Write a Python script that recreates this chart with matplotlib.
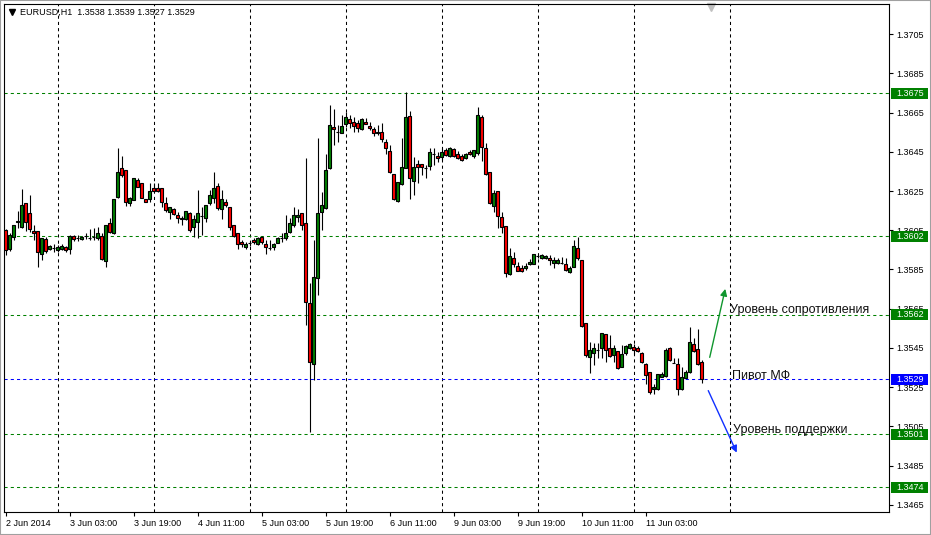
import numpy as np
import matplotlib.pyplot as plt
import matplotlib.transforms as mtransforms
from matplotlib.patches import Rectangle

plt.rcParams['font.family'] = ['Liberation Sans', 'DejaVu Sans']

# EURUSD H1 candles, 2-11 Jun 2014
opens = [
    1.36051, 1.35954, 1.36015, 1.36092, 1.36066, 1.36189, 1.36138, 1.36046, 1.36046, 1.35929,
    1.36005, 1.35954, 1.35959, 1.35949, 1.35954, 1.35964, 1.35954, 1.36020, 1.36010, 1.36005,
    1.36020, 1.36010, 1.36015, 1.36010, 1.36020, 1.35893, 1.36087, 1.36036, 1.36219, 1.36367,
    1.36357, 1.36189, 1.36204, 1.36306, 1.36291, 1.36209, 1.36209, 1.36265, 1.36265, 1.36265,
    1.36189, 1.36143, 1.36158, 1.36128, 1.36107, 1.36107, 1.36138, 1.36066, 1.36092, 1.36122,
    1.36112, 1.36189, 1.36214, 1.36275, 1.36158, 1.36194, 1.36168, 1.36077, 1.36036, 1.35990,
    1.35964, 1.35985, 1.36000, 1.35980, 1.36015, 1.35980, 1.35959, 1.35964, 1.35985, 1.36010,
    1.36010, 1.36041, 1.36077, 1.36117, 1.36138, 1.36087, 1.35679, 1.35368, 1.35806, 1.36143,
    1.36163, 1.36367, 1.36576, 1.36551, 1.36546, 1.36592, 1.36617, 1.36602, 1.36597, 1.36566,
    1.36602, 1.36581, 1.36566, 1.36551, 1.36551, 1.36500, 1.36454, 1.36337, 1.36199, 1.36286,
    1.36367, 1.36632, 1.36301, 1.36388, 1.36388, 1.36367, 1.36377, 1.36439, 1.36428, 1.36423,
    1.36459, 1.36428, 1.36464, 1.36439, 1.36428, 1.36418, 1.36449, 1.36428, 1.36444, 1.36627,
    1.36469, 1.36347, 1.36173, 1.36250, 1.36117, 1.36071, 1.35827, 1.35908, 1.35867, 1.35857,
    1.35857, 1.35878, 1.35878, 1.35918, 1.35908, 1.35908, 1.35908, 1.35883, 1.35883, 1.35883,
    1.35878, 1.35837, 1.35862, 1.35959, 1.35898, 1.35577, 1.35403, 1.35424, 1.35439, 1.35449,
    1.35521, 1.35449, 1.35414, 1.35434, 1.35352, 1.35424, 1.35449, 1.35454, 1.35449, 1.35424,
    1.35368, 1.35327, 1.35240, 1.35240, 1.35301, 1.35306, 1.35449, 1.35373, 1.35368, 1.35240,
    1.35296, 1.35327, 1.35470, 1.35444, 1.35380,
]
highs = [
    1.36056, 1.36036, 1.36077, 1.36148, 1.36260, 1.36189, 1.36230, 1.36077, 1.36046, 1.36010,
    1.36015, 1.35975, 1.35980, 1.35975, 1.35980, 1.35969, 1.36026, 1.36026, 1.36026, 1.36020,
    1.36036, 1.36056, 1.36061, 1.36066, 1.36036, 1.36077, 1.36112, 1.36209, 1.36469, 1.36428,
    1.36357, 1.36219, 1.36316, 1.36316, 1.36291, 1.36209, 1.36291, 1.36291, 1.36291, 1.36265,
    1.36219, 1.36168, 1.36163, 1.36143, 1.36122, 1.36148, 1.36143, 1.36128, 1.36255, 1.36168,
    1.36179, 1.36255, 1.36347, 1.36291, 1.36255, 1.36209, 1.36168, 1.36077, 1.36036, 1.36000,
    1.35990, 1.35995, 1.36010, 1.36015, 1.36020, 1.36000, 1.36000, 1.35985, 1.36015, 1.36036,
    1.36128, 1.36112, 1.36168, 1.36158, 1.36138, 1.36418, 1.35781, 1.36000, 1.36520, 1.36245,
    1.36439, 1.36689, 1.36668, 1.36587, 1.36638, 1.36653, 1.36638, 1.36627, 1.36612, 1.36622,
    1.36622, 1.36602, 1.36576, 1.36587, 1.36597, 1.36515, 1.36485, 1.36337, 1.36296, 1.36520,
    1.36755, 1.36658, 1.36423, 1.36408, 1.36388, 1.36383, 1.36469, 1.36469, 1.36449, 1.36469,
    1.36469, 1.36474, 1.36469, 1.36454, 1.36439, 1.36444, 1.36459, 1.36459, 1.36678, 1.36638,
    1.36495, 1.36347, 1.36255, 1.36250, 1.36143, 1.36071, 1.35959, 1.35939, 1.35888, 1.35873,
    1.35883, 1.35903, 1.35929, 1.35929, 1.35929, 1.35924, 1.35924, 1.35913, 1.35908, 1.35913,
    1.35908, 1.35867, 1.36000, 1.36015, 1.35898, 1.35577, 1.35480, 1.35475, 1.35475, 1.35526,
    1.35521, 1.35516, 1.35465, 1.35434, 1.35465, 1.35465, 1.35475, 1.35470, 1.35459, 1.35429,
    1.35373, 1.35327, 1.35266, 1.35317, 1.35327, 1.35449, 1.35454, 1.35398, 1.35398, 1.35352,
    1.35337, 1.35556, 1.35500, 1.35546, 1.35390,
]
lows = [
    1.35924, 1.35944, 1.36000, 1.36061, 1.36061, 1.36046, 1.36041, 1.36000, 1.35862, 1.35898,
    1.35934, 1.35949, 1.35939, 1.35939, 1.35949, 1.35939, 1.35929, 1.35995, 1.35995, 1.36000,
    1.36005, 1.36000, 1.36000, 1.36000, 1.35898, 1.35862, 1.36036, 1.36031, 1.36214, 1.36321,
    1.36173, 1.36173, 1.36204, 1.36270, 1.36214, 1.36194, 1.36194, 1.36245, 1.36245, 1.36168,
    1.36143, 1.36107, 1.36128, 1.36087, 1.36077, 1.36102, 1.36041, 1.36015, 1.36010, 1.36026,
    1.36092, 1.36179, 1.36189, 1.36153, 1.36107, 1.36168, 1.36051, 1.36015, 1.35954, 1.35964,
    1.35954, 1.35969, 1.35980, 1.35975, 1.35980, 1.35929, 1.35949, 1.35949, 1.35985, 1.35990,
    1.36000, 1.36036, 1.36066, 1.36092, 1.36051, 1.35567, 1.35021, 1.35286, 1.35720, 1.36051,
    1.36158, 1.36362, 1.36485, 1.36500, 1.36546, 1.36576, 1.36571, 1.36551, 1.36551, 1.36561,
    1.36592, 1.36561, 1.36530, 1.36536, 1.36500, 1.36439, 1.36342, 1.36204, 1.36194, 1.36281,
    1.36367, 1.36209, 1.36230, 1.36291, 1.36332, 1.36316, 1.36357, 1.36383, 1.36398, 1.36408,
    1.36428, 1.36423, 1.36423, 1.36413, 1.36403, 1.36413, 1.36434, 1.36418, 1.36434, 1.36403,
    1.36332, 1.36184, 1.36143, 1.36061, 1.36036, 1.35811, 1.35822, 1.35862, 1.35842, 1.35837,
    1.35847, 1.35873, 1.35878, 1.35908, 1.35903, 1.35903, 1.35873, 1.35857, 1.35878, 1.35878,
    1.35842, 1.35832, 1.35862, 1.35898, 1.35556, 1.35403, 1.35322, 1.35363, 1.35398, 1.35398,
    1.35378, 1.35403, 1.35378, 1.35342, 1.35352, 1.35414, 1.35444, 1.35419, 1.35429, 1.35373,
    1.35266, 1.35215, 1.35215, 1.35235, 1.35301, 1.35301, 1.35383, 1.35373, 1.35210, 1.35235,
    1.35296, 1.35322, 1.35429, 1.35363, 1.35270,
]
closes = [
    1.35949, 1.36026, 1.36077, 1.36097, 1.36179, 1.36092, 1.36056, 1.36036, 1.35939, 1.36010,
    1.35944, 1.35969, 1.35959, 1.35964, 1.35969, 1.35949, 1.36020, 1.36005, 1.36010, 1.36015,
    1.36020, 1.36010, 1.36015, 1.36036, 1.35903, 1.36077, 1.36041, 1.36209, 1.36347, 1.36332,
    1.36194, 1.36214, 1.36316, 1.36270, 1.36214, 1.36194, 1.36250, 1.36250, 1.36250, 1.36194,
    1.36153, 1.36168, 1.36133, 1.36112, 1.36112, 1.36148, 1.36051, 1.36107, 1.36138, 1.36122,
    1.36179, 1.36230, 1.36265, 1.36163, 1.36209, 1.36179, 1.36066, 1.36020, 1.35980, 1.35980,
    1.35980, 1.35985, 1.35990, 1.36010, 1.35990, 1.35964, 1.35959, 1.35980, 1.36010, 1.36010,
    1.36036, 1.36087, 1.36128, 1.36128, 1.36077, 1.35684, 1.35378, 1.35811, 1.36138, 1.36179,
    1.36357, 1.36587, 1.36566, 1.36551, 1.36581, 1.36627, 1.36597, 1.36581, 1.36571, 1.36617,
    1.36592, 1.36571, 1.36546, 1.36546, 1.36515, 1.36469, 1.36347, 1.36209, 1.36296, 1.36372,
    1.36627, 1.36316, 1.36372, 1.36372, 1.36372, 1.36367, 1.36449, 1.36439, 1.36418, 1.36449,
    1.36434, 1.36469, 1.36428, 1.36418, 1.36408, 1.36439, 1.36439, 1.36459, 1.36638, 1.36474,
    1.36337, 1.36189, 1.36240, 1.36122, 1.36066, 1.35832, 1.35918, 1.35878, 1.35842, 1.35842,
    1.35867, 1.35888, 1.35929, 1.35918, 1.35924, 1.35918, 1.35898, 1.35898, 1.35898, 1.35883,
    1.35847, 1.35857, 1.35969, 1.35908, 1.35561, 1.35414, 1.35439, 1.35449, 1.35439, 1.35526,
    1.35439, 1.35408, 1.35449, 1.35347, 1.35419, 1.35459, 1.35470, 1.35439, 1.35434, 1.35378,
    1.35312, 1.35225, 1.35250, 1.35317, 1.35317, 1.35439, 1.35388, 1.35373, 1.35240, 1.35301,
    1.35327, 1.35480, 1.35434, 1.35368, 1.35290,
]

time_labels = ["2 Jun 2014", "3 Jun 03:00", "3 Jun 19:00", "4 Jun 11:00", "5 Jun 03:00",
               "5 Jun 19:00", "6 Jun 11:00", "9 Jun 03:00", "9 Jun 19:00", "10 Jun 11:00",
               "11 Jun 03:00"]
support_levels = [1.3675, 1.3602, 1.3562, 1.3501, 1.3474]
pivot = 1.3529
price_ticks = [1.3465, 1.3485, 1.3505, 1.3525, 1.3545, 1.3565, 1.3585,
               1.3605, 1.3625, 1.3645, 1.3665, 1.3685, 1.3705]

W, H = 931, 535
fig = plt.figure(figsize=(W / 100, H / 100), dpi=100)
ax = fig.add_axes([4 / W, 23 / H, 885 / W, 508 / H])

o = np.array(opens)
h = np.array(highs)
l = np.array(lows)
c = np.array(closes)
idx = np.arange(len(o))
body_col = np.where(c >= o, '#008000', '#ff0000')

ax.vlines(idx, l, h, color='black', lw=0.8, zorder=3)
ax.bar(idx, np.abs(c - o), bottom=np.minimum(o, c), width=0.55, color=body_col,
       edgecolor='black', linewidth=0.8, zorder=4)

# vertical grid (every 24 bars, up to the chart shift)
for gx in range(13, 190, 24):
    ax.axvline(gx, color='black', lw=0.75, dashes=(3, 3), zorder=1)

# levels
for lv in support_levels:
    ax.axhline(lv, color='#008000', lw=0.75, dashes=(3, 3), zorder=2)
ax.axhline(pivot, color='#0000ff', lw=0.75, dashes=(3, 3), zorder=2)

trans = mtransforms.blended_transform_factory(ax.transAxes, ax.transData)
box_h = 11 / 19600
for lv, col in [(v, '#008000') for v in support_levels] + [(pivot, '#0000ff')]:
    ax.add_patch(Rectangle((1 + 2 / 885, lv - box_h / 2), 37 / 885, box_h, transform=trans,
                           facecolor=col, edgecolor='none', clip_on=False, zorder=10))
    ax.text(1 + 7 / 885, lv, f'{lv:.4f}', transform=trans, color='white', fontsize=6.5,
            va='center', ha='left', clip_on=False, zorder=11)

ax.set_xlim(-0.375, 220.875)
ax.set_ylim(1.34613, 1.37204)

ax.yaxis.tick_right()
ax.set_yticks(price_ticks)
ax.set_yticklabels([f'{t:.4f}' for t in price_ticks])
ax.tick_params(axis='y', length=3, width=0.8, pad=2, labelsize=6.5)
ax.set_xticks(np.arange(0, 161, 16))
ax.set_xticklabels(time_labels, ha='left')
ax.tick_params(axis='x', length=3, width=0.8, pad=2, labelsize=6.5)
for sp in ax.spines.values():
    sp.set_linewidth(0.8)

# arrows and notes
ax.annotate('', xy=(180.1, 1.35765), xytext=(175.9, 1.35388),
            arrowprops=dict(arrowstyle='-|>', color='#10962e', lw=1, mutation_scale=10))
ax.annotate('', xy=(183.1, 1.34903), xytext=(175.4, 1.35245),
            arrowprops=dict(arrowstyle='-|>', color='#1030ff', lw=1, mutation_scale=10))
ax.text(181.1, 1.35643, 'Уровень сопротивления', fontsize=9, va='center', ha='left', color='#101010')
ax.text(181.6, 1.35306, 'Пивот МФ', fontsize=9, va='center', ha='left', color='#101010')
ax.text(181.9, 1.35031, 'Уровень поддержки', fontsize=9, va='center', ha='left', color='#101010')

# header
fig.text(20 / W, 1 - 12 / H, 'EURUSD,H1  1.3538 1.3539 1.3527 1.3529', fontsize=6.5, va='center')
ax.plot([12 / W], [1 - 12 / H], marker='v', color='black', ms=4, transform=fig.transFigure, clip_on=False)
ax.plot([711 / W], [1 - 7 / H], marker='v', color='#c0c0c0', ms=6, transform=fig.transFigure, clip_on=False)

fig.add_artist(Rectangle((0, 0), 1, 1, transform=fig.transFigure, fill=False,
                         edgecolor='#a0a0a0', lw=1.5))

fig.savefig('out.png', dpi=100)
